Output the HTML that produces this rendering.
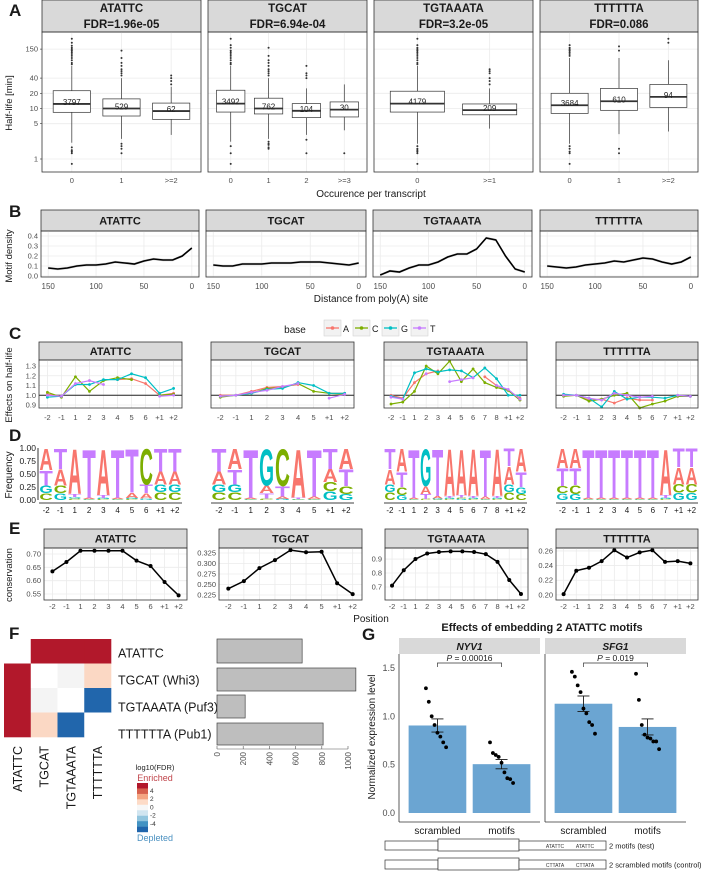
<!DOCTYPE html>
<html><head><meta charset="utf-8">
<style>
html,body{margin:0;padding:0;background:#fff;}
svg{display:block;font-family:"Liberation Sans Narrow","Liberation Sans",Arial,sans-serif;}
</style></head>
<body>
<svg id="fig" width="705" height="871" viewBox="0 0 705 871" xmlns="http://www.w3.org/2000/svg"></svg>
<script>
// ---------- DATA ----------
const motifs = ['ATATTC','TGCAT','TGTAAATA','TTTTTTA'];
const aFdr = ['FDR=1.96e-05','FDR=6.94e-04','FDR=3.2e-05','FDR=0.086'];
const aCats = [['0','1','>=2'],['0','1','2','>=3'],['0','>=1'],['0','1','>=2']];
const aCounts = [[3797,529,62],[3492,762,104,30],[4179,209],[3684,610,94]];
// [whiskerLow, q1, median, q3, whiskerHigh]
const aStats = [
 [[2.1,8.4,12.3,22.5,70],[2.5,7.1,10,15.5,40],[3,6.1,8.9,12.8,27]],
 [[2.2,8.5,12.5,23,70],[2.5,7.8,10,16,40],[3,6.6,9,12.5,25],[3.7,6.8,9.5,13.5,30]],
 [[2,8.5,12.5,22,70],[4,7.5,9.3,12.3,25]],
 [[2,8,11.6,20,100],[3.1,9.2,13.9,25,100],[3.5,10.5,17,30,90]]
];
const aOutliers = [
 [[75,80,90,100,110,120,130,140,150,160,175,200,240,1.7,1.5,1.4,1.3,0.8],[45,50,55,60,70,80,100,140,2,1.8,1.6,1.3],[30,35,40,45]],
 [[75,80,90,100,110,120,130,140,160,180,240,1.8,1.3,0.8],[45,50,55,60,70,80,90,110,160,2.2,2,1.9,1.7,1.6],[40,45,50,70,2.4,1.3],[1.3]],
 [[75,80,90,100,110,120,130,140,150,160,180,240,1.8,1.6,1.5,1.4,1.3,0.8],[30,35,40,50,55,60]],
 [[110,120,130,140,150,160,180,1.8,1.6,1.4,1.3,0.8],[140,170,1.6,1.3],[200,240]]
];
const aYTicks = [1,5,10,20,40,150];

const bX = [150,140,130,120,110,100,90,80,70,60,50,40,30,20,10,0];
const bDens = [
 [0.08,0.07,0.08,0.10,0.11,0.11,0.12,0.14,0.13,0.12,0.15,0.17,0.16,0.16,0.20,0.28],
 [0.11,0.10,0.10,0.12,0.12,0.12,0.13,0.13,0.13,0.14,0.14,0.14,0.13,0.12,0.11,0.13],
 [0.01,0.05,0.04,0.08,0.11,0.11,0.14,0.19,0.22,0.22,0.27,0.38,0.36,0.20,0.07,0.04],
 [0.10,0.09,0.08,0.09,0.11,0.12,0.13,0.15,0.14,0.16,0.18,0.17,0.14,0.12,0.14,0.19]
];
const bTicks = [150,100,50,0];
const bYTicks = [0,0.1,0.2,0.3,0.4];

const posLabels = [
 ['-2','-1','1','2','3','4','5','6','+1','+2'],
 ['-2','-1','1','2','3','4','5','+1','+2'],
 ['-2','-1','1','2','3','4','5','6','7','8','+1','+2'],
 ['-2','-1','1','2','3','4','5','6','7','+1','+2']
];
const bases = ['A','C','G','T'];
const effA = [
 [1.01,0.99,null,1.15,null,1.16,1.17,1.12,1.00,1.02],
 [1.0,1.0,1.04,1.08,1.09,1.11,null,1.02,1.02],
 [1.0,0.97,1.13,1.22,1.25,null,null,null,1.19,1.1,1.05,0.97],
 [1.0,1.0,0.95,0.96,0.92,0.97,0.95,0.95,null,0.99,0.99]
];
const effC = [
 [1.03,0.98,1.19,1.04,1.15,1.18,1.16,null,1.0,1.01],
 [0.98,1.0,1.02,1.07,1.08,1.12,1.04,1.02,1.01],
 [0.91,0.93,1.04,1.3,1.22,1.35,1.14,1.27,1.13,1.08,1.05,0.95],
 [0.99,1.0,0.94,0.96,1.0,1.02,0.87,0.91,0.94,0.99,0.99]
];
const effG = [
 [0.98,0.99,1.11,1.11,1.16,1.16,1.22,1.18,1.02,1.07],
 [0.99,1.0,1.02,1.06,1.07,1.13,1.1,1.02,1.02],
 [0.99,0.96,1.23,1.27,1.24,1.26,1.25,1.18,1.28,1.17,1.0,1.0],
 [1.01,1.0,0.97,0.88,1.04,0.96,0.98,0.98,0.97,1.0,0.99]
];
const effT = [
 [1.0,0.99,1.12,1.15,1.11,null,null,null,0.99,1.0],
 [0.99,1.0,1.03,1.05,1.09,1.12,null,0.97,1.01],
 [0.98,0.96,null,1.22,null,1.14,1.16,1.18,null,1.1,1.06,0.96],
 [1.0,1.0,0.97,0.95,1.02,1.0,0.98,0.99,null,1.0,0.99]
];
const cYTicks = [0.9,1.0,1.1,1.2,1.3];

// logo frequencies [A,C,G,T]
const logoFreq = [
 [[.42,.13,.15,.30],[.32,.15,.13,.40],[.88,.03,.03,.06],[.03,.01,.01,.95],[.9,.02,.02,.06],[.03,.01,.01,.95],[.1,.02,.02,.86],[.1,.7,.03,.17],[.25,.15,.15,.45],[.25,.15,.15,.45]],
 [[.25,.15,.15,.45],[.4,.15,.15,.3],[.03,.01,.01,.95],[.15,.03,.72,.1],[.05,.73,.02,.2],[.95,.01,.01,.03],[.05,.01,.01,.93],[.25,.18,.17,.4],[.4,.15,.12,.33]],
 [[.3,.15,.15,.4],[.45,.15,.1,.3],[.03,.01,.01,.95],[.15,.02,.73,.1],[.05,.01,.02,.92],[.92,.02,.02,.04],[.9,.03,.02,.05],[.92,.02,.02,.04],[.05,.01,.01,.93],[.92,.02,.02,.04],[.35,.15,.15,.35],[.45,.12,.13,.3]],
 [[.38,.14,.13,.35],[.38,.17,.12,.33],[.03,.01,.01,.95],[.03,.01,.01,.95],[.03,.01,.01,.95],[.03,.01,.01,.95],[.03,.01,.01,.95],[.03,.01,.01,.95],[.9,.02,.02,.06],[.33,.16,.14,.37],[.33,.16,.14,.37]]
];
const dYTicks = [0,0.25,0.5,0.75,1.0];

const consVals = [
 [.635,.67,.712,.712,.712,.712,.675,.655,.595,.545],
 [.240,.258,.289,.308,.332,.327,.328,.253,.227],
 [.71,.82,.9,.94,.95,.955,.955,.95,.935,.88,.75,.65],
 [.201,.233,.237,.246,.261,.251,.258,.261,.245,.246,.243]
];
const eRange = [[0.5275,0.7225],[0.213,0.337],[0.607,0.979],[0.193,0.264]];
const eTicks = [[0.55,0.60,0.65,0.70],[0.225,0.25,0.275,0.3,0.325],[0.7,0.8,0.9],[0.20,0.22,0.24,0.26]];
const eTickLbl = [['0.55','0.60','0.65','0.70'],['0.225','0.250','0.275','0.300','0.325'],['0.7','0.8','0.9'],['0.20','0.22','0.24','0.26']];

const fRows = ['ATATTC','TGCAT (Whi3)','TGTAAATA (Puf3)','TTTTTTA (Pub1)'];
const fCols = ['ATATTC','TGCAT','TGTAAATA','TTTTTTA'];
const fLogFdr = [
 [null,5,5,5],
 [5,0,0.3,1.5],
 [5,0.3,0,-5],
 [5,1.5,-5,null]
];
const fCounts = [650,1060,215,810];
const fTicks = [0,200,400,600,800,1000];

const gGenes = ['NYV1','SFG1'];
const gConds = ['scrambled','motifs'];
const gMeans = [[0.905,0.505],[1.13,0.89]];
const gSE = [[0.068,0.048],[0.08,0.083]];
const gPoints = [
 [[1.29,1.15,1.0,0.91,0.83,0.79,0.73,0.68],[0.73,0.62,0.60,0.58,0.52,0.42,0.36,0.35,0.31]],
 [[1.46,1.41,1.32,1.25,1.08,1.03,0.94,0.91,0.82],[1.44,1.17,0.91,0.81,0.78,0.77,0.74,0.74,0.66]]
];
const gP = ['P = 0.00016','P = 0.019'];
const gYTicks = [0,0.5,1.0,1.5];

// ---------- HELPERS ----------
const svg = document.getElementById('fig');
const NS = 'http://www.w3.org/2000/svg';
function mk(tag, attrs, name, parent) {
  const e = document.createElementNS(NS, tag);
  for (const k in attrs) e.setAttribute(k, attrs[k]);
  
  
  (parent || svg).appendChild(e);
  return e;
}
function txt(x, y, s, attrs, name, parent) {
  const a = Object.assign({x: x, y: y, 'font-size': 8, fill: '#4d4d4d'}, attrs || {});
  const e = mk('text', a, name, parent);
  e.textContent = s;
  return e;
}
const colors = {A:'#F8766D', C:'#7CAE00', G:'#00BFC4', T:'#C77CFF'};
const GRID = '#ebebeb';
function strip(x0, x1, y0, y1, lines, fs, name) {
  mk('rect', {x: x0, y: y0, width: x1 - x0, height: y1 - y0, fill: '#d9d9d9', stroke: '#333', 'stroke-width': 0.8}, name);
  const n = lines.length;
  lines.forEach((l, i) => {
    const yc = y0 + (y1 - y0) * (i + 0.5) / n + fs * 0.36;
    txt((x0 + x1) / 2, yc, l, {'text-anchor': 'middle', 'font-size': fs, 'font-weight': 'bold', fill: '#1a1a1a'}, name + '-text');
  });
}
function panelBorder(x0, x1, y0, y1, name) {
  mk('rect', {x: x0, y: y0, width: x1 - x0, height: y1 - y0, fill: 'none', stroke: '#333', 'stroke-width': 0.8}, name);
}
function discX(x0, x1, n) { const u = (x1 - x0) / (n - 1 + 1.2); return i => x0 + (0.6 + i) * u; }
function discU(x0, x1, n) { return (x1 - x0) / (n - 1 + 1.2); }
function label(x, y, s) { txt(x, y, s, {'font-size': 17, 'font-weight': 'bold', fill: '#1a1a1a', 'font-family': '"Liberation Sans",sans-serif'}, 'panel-label-' + s.toLowerCase()); }

// ---------- PANEL A ----------
label(9, 16, 'A');
const aPX = [[42,201],[208,367],[374,533],[540,698]];
const aTop = 32, aBot = 172;
function aY(v) { return 159 - Math.log10(v) * 50.5; }
motifs.forEach((m, p) => {
  const [x0, x1] = aPX[p];
  strip(x0, x1, 0, aTop, [m, aFdr[p]], 11.5, 'a-strip-' + m.toLowerCase());
  aYTicks.forEach(t => mk('line', {x1: x0, x2: x1, y1: aY(t), y2: aY(t), stroke: GRID, 'stroke-width': 0.8}, 'a-gridline'));
  const n = aCats[p].length, fx = discX(x0, x1, n), u = discU(x0, x1, n);
  aCats[p].forEach((c, i) => mk('line', {x1: fx(i), x2: fx(i), y1: aTop, y2: aBot, stroke: GRID, 'stroke-width': 0.8}, 'a-gridline'));
  aCats[p].forEach((c, i) => {
    const s = aStats[p][i], cx = fx(i), hw = u * 0.375;
    mk('line', {x1: cx, x2: cx, y1: aY(s[0]), y2: aY(s[1]), stroke: '#333', 'stroke-width': 0.7}, 'a-whisker-low');
    mk('line', {x1: cx, x2: cx, y1: aY(s[3]), y2: aY(s[4]), stroke: '#333', 'stroke-width': 0.7}, 'a-whisker-high');
    mk('rect', {x: cx - hw, y: aY(s[3]), width: 2 * hw, height: aY(s[1]) - aY(s[3]), fill: '#fff', stroke: '#333', 'stroke-width': 0.7}, 'a-box');
    mk('line', {x1: cx - hw, x2: cx + hw, y1: aY(s[2]), y2: aY(s[2]), stroke: '#333', 'stroke-width': 1.8}, 'a-median');
    aOutliers[p][i].forEach(o => mk('circle', {cx: cx, cy: aY(o), r: 1, fill: '#333'}, 'a-outlier'));
    txt(cx, aY(s[2]) + 1, String(aCounts[p][i]), {'text-anchor': 'middle', 'font-size': 8, fill: '#222'}, 'a-count-label');
    txt(cx, 183, c, {'text-anchor': 'middle', 'font-size': 7.5}, 'a-x-tick-label');
  });
  panelBorder(x0, x1, aTop, aBot, 'a-panel-' + m.toLowerCase());
  if (p === 0) aYTicks.forEach(t => {
    txt(x0 - 4, aY(t) + 2.5, String(t), {'text-anchor': 'end', 'font-size': 7.5}, 'a-y-tick-label');
    mk('line', {x1: x0 - 2, x2: x0, y1: aY(t), y2: aY(t), stroke: '#333', 'stroke-width': 0.6}, 'a-y-tick');
  });
});
txt(12, 103, 'Half-life [min]', {'text-anchor': 'middle', 'font-size': 9.5, fill: '#1a1a1a', transform: 'rotate(-90 12 103)'}, 'a-y-axis-title');
txt(371, 197, 'Occurence per transcript', {'text-anchor': 'middle', 'font-size': 10, fill: '#1a1a1a'}, 'a-x-axis-title');

// ---------- PANEL B ----------
label(9, 217, 'B');
const bPX = [[41,199],[206,366],[373,532],[540,698]];
const bTop = 231, bBot = 277;
function bY(v) { return 276 - v * 100; }
motifs.forEach((m, p) => {
  const [x0, x1] = bPX[p];
  const bx = v => x0 + (x1 - x0) * (0.0455 + (150 - v) / 150 * 0.909);
  strip(x0, x1, 210, bTop, [m], 11, 'b-strip-' + m.toLowerCase());
  bYTicks.forEach(t => mk('line', {x1: x0, x2: x1, y1: bY(t), y2: bY(t), stroke: GRID, 'stroke-width': 0.8}, 'b-gridline'));
  bTicks.forEach(t => mk('line', {x1: bx(t), x2: bx(t), y1: bTop, y2: bBot, stroke: GRID, 'stroke-width': 0.8}, 'b-gridline'));
  const up = bX.map((v, i) => bx(v) + ',' + bY(bDens[p][i] + 0.012)).join(' ');
  const dn = bX.map((v, i) => bx(v) + ',' + bY(bDens[p][i] - 0.012)).reverse().join(' ');
  mk('polygon', {points: up + ' ' + dn, fill: '#bbb', opacity: 0.6}, 'b-density-ribbon');
  mk('polyline', {points: bX.map((v, i) => bx(v) + ',' + bY(bDens[p][i])).join(' '), fill: 'none', stroke: '#000', 'stroke-width': 1.6}, 'b-density-line');
  panelBorder(x0, x1, bTop, bBot, 'b-panel-' + m.toLowerCase());
  bTicks.forEach(t => txt(bx(t), 289, String(t), {'text-anchor': 'middle', 'font-size': 8}, 'b-x-tick-label'));
  if (p === 0) bYTicks.forEach(t => txt(x0 - 3, bY(t) + 2.5, t.toFixed(1), {'text-anchor': 'end', 'font-size': 7.5}, 'b-y-tick-label'));
});
txt(12, 256, 'Motif density', {'text-anchor': 'middle', 'font-size': 9.5, fill: '#1a1a1a', transform: 'rotate(-90 12 256)'}, 'b-y-axis-title');
txt(371, 302, 'Distance from poly(A) site', {'text-anchor': 'middle', 'font-size': 10, fill: '#1a1a1a'}, 'b-x-axis-title');

// ---------- PANEL C ----------
label(9, 339, 'C');
txt(295, 333, 'base', {'text-anchor': 'middle', 'font-size': 10, fill: '#1a1a1a'}, 'c-legend-title');
bases.forEach((b, i) => {
  const kx = 324 + i * 29;
  mk('rect', {x: kx, y: 320, width: 17, height: 16, fill: '#f2f2f2', stroke: '#ccc', 'stroke-width': 0.5}, 'c-legend-key-' + b.toLowerCase());
  mk('line', {x1: kx + 2, x2: kx + 15, y1: 328, y2: 328, stroke: colors[b], 'stroke-width': 1.3}, 'c-legend-line');
  mk('circle', {cx: kx + 8.5, cy: 328, r: 1.8, fill: colors[b]}, 'c-legend-dot');
  txt(kx + 19, 332, b, {'font-size': 9, fill: '#1a1a1a'}, 'c-legend-label');
});
const cPX = [[39,182],[211,354],[384,527],[556,698]];
const cTop = 360, cBot = 408;
function cY(v) { return 366 + (1.3 - v) * 97.5; }
const effAll = [effA, effC, effG, effT];
motifs.forEach((m, p) => {
  const [x0, x1] = cPX[p];
  const n = posLabels[p].length, fx = discX(x0, x1, n);
  strip(x0, x1, 342, cTop, [m], 11, 'c-strip-' + m.toLowerCase());
  cYTicks.forEach(t => mk('line', {x1: x0, x2: x1, y1: cY(t), y2: cY(t), stroke: GRID, 'stroke-width': 0.8}, 'c-gridline'));
  posLabels[p].forEach((l, i) => mk('line', {x1: fx(i), x2: fx(i), y1: cTop, y2: cBot, stroke: GRID, 'stroke-width': 0.8}, 'c-gridline'));
  mk('line', {x1: x0, x2: x1, y1: cY(1), y2: cY(1), stroke: '#222', 'stroke-width': 1.1}, 'c-reference-line');
  bases.forEach((b, bi) => {
    const vals = effAll[bi][p];
    let seg = [];
    const flush = () => { if (seg.length > 1) mk('polyline', {points: seg.join(' '), fill: 'none', stroke: colors[b], 'stroke-width': 1.2}, 'c-line-' + b.toLowerCase()); seg = []; };
    vals.forEach((v, i) => {
      if (v === null) { flush(); return; }
      seg.push(fx(i) + ',' + cY(v));
      mk('circle', {cx: fx(i), cy: cY(v), r: 1.4, fill: colors[b]}, 'c-point-' + b.toLowerCase());
    });
    flush();
  });
  panelBorder(x0, x1, cTop, cBot, 'c-panel-' + m.toLowerCase());
  posLabels[p].forEach((l, i) => txt(fx(i), 420, l, {'text-anchor': 'middle', 'font-size': 7.5}, 'c-x-tick-label'));
  if (p === 0) cYTicks.forEach(t => txt(x0 - 3, cY(t) + 2.5, t.toFixed(1), {'text-anchor': 'end', 'font-size': 7.5}, 'c-y-tick-label'));
});
txt(12, 385, 'Effects on half-life', {'text-anchor': 'middle', 'font-size': 9.5, fill: '#1a1a1a', transform: 'rotate(-90 12 385)'}, 'c-y-axis-title');

// ---------- PANEL D ----------
label(9, 441, 'D');
function dY(v) { return 500 - v * 52; }
motifs.forEach((m, p) => {
  const [x0, x1] = cPX[p];
  const n = posLabels[p].length, u = (x1 - x0) / n;
  const fx = i => x0 + u * (i + 0.5);
  logoFreq[p].forEach((fr, i) => {
    const order = [0, 1, 2, 3].sort((a, b) => fr[a] - fr[b]);
    let acc = 0;
    order.forEach(k => {
      const h = fr[k] * 52;
      const yb = dY(acc);
      acc += fr[k];
      if (h < 0.4) return;
      const w = u * 0.94;
      const t = mk('text', {x: 0, y: 0, 'font-size': 10, 'font-weight': 'bold', fill: colors[bases[k]], textLength: w, lengthAdjust: 'spacingAndGlyphs', 'font-family': '"Liberation Sans",sans-serif', transform: 'translate(' + (fx(i) - w / 2) + ',' + yb + ') scale(1,' + (h / 7.2) + ')'}, 'd-logo-letter-' + bases[k].toLowerCase());
      t.textContent = bases[k];
    });
  });
  mk('line', {x1: x0, x2: x1, y1: 503, y2: 503, stroke: '#000', 'stroke-width': 0.8}, 'd-x-axis-line');
  posLabels[p].forEach((l, i) => txt(fx(i), 513, l, {'text-anchor': 'middle', 'font-size': 8, fill: '#1a1a1a'}, 'd-x-tick-label'));
  if (p === 0) {
    mk('line', {x1: x0 - 1, x2: x0 - 1, y1: dY(1), y2: dY(0), stroke: '#000', 'stroke-width': 0.8}, 'd-y-axis-line');
    dYTicks.forEach(t => txt(x0 - 3, dY(t) + 3, t.toFixed(2), {'text-anchor': 'end', 'font-size': 8.5, fill: '#1a1a1a'}, 'd-y-tick-label'));
  }
});
txt(12, 475, 'Frequency', {'text-anchor': 'middle', 'font-size': 10, fill: '#1a1a1a', transform: 'rotate(-90 12 475)'}, 'd-y-axis-title');

// ---------- PANEL E ----------
label(9, 534, 'E');
const ePX = [[44,187],[219,362],[385,528],[556,698]];
const eTop = 548, eBot = 600;
motifs.forEach((m, p) => {
  const [x0, x1] = ePX[p];
  const [lo, hi] = eRange[p];
  const ey = v => eBot - (v - lo) / (hi - lo) * (eBot - eTop);
  const n = posLabels[p].length, fx = discX(x0, x1, n);
  strip(x0, x1, 529, eTop, [m], 11, 'e-strip-' + m.toLowerCase());
  eTicks[p].forEach(t => mk('line', {x1: x0, x2: x1, y1: ey(t), y2: ey(t), stroke: GRID, 'stroke-width': 0.8}, 'e-gridline'));
  posLabels[p].forEach((l, i) => mk('line', {x1: fx(i), x2: fx(i), y1: eTop, y2: eBot, stroke: GRID, 'stroke-width': 0.8}, 'e-gridline'));
  mk('polyline', {points: consVals[p].map((v, i) => fx(i) + ',' + ey(v)).join(' '), fill: 'none', stroke: '#000', 'stroke-width': 1.5}, 'e-conservation-line');
  consVals[p].forEach((v, i) => mk('circle', {cx: fx(i), cy: ey(v), r: 2, fill: '#000'}, 'e-conservation-point'));
  panelBorder(x0, x1, eTop, eBot, 'e-panel-' + m.toLowerCase());
  posLabels[p].forEach((l, i) => txt(fx(i), 609, l, {'text-anchor': 'middle', 'font-size': 7.5}, 'e-x-tick-label'));
  eTicks[p].forEach((t, i) => txt(x0 - 3, ey(t) + 2.5, eTickLbl[p][i], {'text-anchor': 'end', 'font-size': 7.5}, 'e-y-tick-label'));
});
txt(12, 575, 'conservation', {'text-anchor': 'middle', 'font-size': 9.5, fill: '#1a1a1a', transform: 'rotate(-90 12 575)'}, 'e-y-axis-title');
txt(371, 622, 'Position', {'text-anchor': 'middle', 'font-size': 10, fill: '#1a1a1a'}, 'e-x-axis-title');

// ---------- PANEL F ----------
label(9, 639, 'F');
const hmX0 = 4, hmCW = 26.75, hmY0 = 639, hmRH = 24.5;
function fColor(v) {
  if (v === null) return '#ffffff';
  if (v >= 4) return '#B2182B';
  if (v >= 1) return '#FBD8C4';
  if (v > 0.1) return '#F4F4F4';
  if (v <= -4) return '#2166AC';
  return '#ffffff';
}
fLogFdr.forEach((row, r) => row.forEach((v, c) => {
  mk('rect', {x: hmX0 + c * hmCW, y: hmY0 + r * hmRH, width: hmCW + 0.3, height: hmRH + 0.3, fill: fColor(v)}, 'f-heatmap-cell');
}));
fCols.forEach((c, i) => {
  const cx = hmX0 + (i + 0.5) * hmCW + 4.5;
  txt(cx, 746, c, {'text-anchor': 'end', 'font-size': 12.5, fill: '#1a1a1a', 'font-family': '"Liberation Sans",sans-serif', transform: 'rotate(-90 ' + cx + ' 746)'}, 'f-column-label');
});
const fRowY = [653, 680, 707, 734];
fRows.forEach((r, i) => txt(118, fRowY[i] + 4.5, r, {'font-size': 12.5, fill: '#1a1a1a', 'font-family': '"Liberation Sans",sans-serif'}, 'f-row-label'));
function fx(v) { return 217 + v * 0.131; }
const fBarY = [[639,663],[668,691],[695,718],[723,745]];
fCounts.forEach((v, i) => mk('rect', {x: fx(0), y: fBarY[i][0], width: fx(v) - fx(0), height: fBarY[i][1] - fBarY[i][0], fill: '#bebebe', stroke: '#444', 'stroke-width': 0.7}, 'f-count-bar'));
mk('line', {x1: fx(0), x2: fx(1000), y1: 749, y2: 749, stroke: '#555', 'stroke-width': 0.6}, 'f-x-axis-line');
fTicks.forEach(t => {
  mk('line', {x1: fx(t), x2: fx(t), y1: 746, y2: 749, stroke: '#555', 'stroke-width': 0.6}, 'f-x-tick');
  txt(fx(t) + 3, 752, String(t), {'text-anchor': 'end', 'font-size': 8, transform: 'rotate(-90 ' + (fx(t) + 3) + ' 752)'}, 'f-x-tick-label');
});
txt(155, 770, 'log10(FDR)', {'text-anchor': 'middle', 'font-size': 7.5, fill: '#1a1a1a'}, 'f-legend-title');
txt(155, 781, 'Enriched', {'text-anchor': 'middle', 'font-size': 9, fill: '#c0444a'}, 'f-legend-enriched');
const cbCols = ['#B2182B','#D6604D','#F4A582','#FDDBC7','#F7F7F7','#D1E5F0','#92C5DE','#4393C3','#2166AC'];
cbCols.forEach((c, i) => mk('rect', {x: 137, y: 783 + i * 5.45, width: 11, height: 5.6, fill: c}, 'f-colorbar-segment'));
['4','2','0','-2','-4'].forEach((l, i) => txt(150, 793 + i * 8.2, l, {'font-size': 6.5, fill: '#333'}, 'f-colorbar-label'));
txt(155, 841, 'Depleted', {'text-anchor': 'middle', 'font-size': 9, fill: '#4a90c0'}, 'f-legend-depleted');

// ---------- PANEL G ----------
label(362, 640, 'G');
txt(542, 631, 'Effects of embedding 2 ATATTC motifs', {'text-anchor': 'middle', 'font-size': 11, 'font-weight': 'bold', fill: '#1a1a1a'}, 'g-title');
const gPX = [[399,540],[545,686]];
function gY(v) { return 813 - v * 96.7; }
gGenes.forEach((g, p) => {
  const [x0, x1] = gPX[p];
  mk('rect', {x: x0, y: 638, width: x1 - x0, height: 16, fill: '#d9d9d9'}, 'g-strip-' + g.toLowerCase());
  txt((x0 + x1) / 2, 650, g, {'text-anchor': 'middle', 'font-size': 10, 'font-weight': 'bold', 'font-style': 'italic', fill: '#1a1a1a'}, 'g-strip-text');
  mk('line', {x1: x0, x2: x0, y1: 654, y2: 822, stroke: '#333', 'stroke-width': 0.8}, 'g-y-axis-line');
  mk('line', {x1: x0, x2: x1, y1: 822, y2: 822, stroke: '#333', 'stroke-width': 0.8}, 'g-x-axis-line');
  const fxg = discX(x0, x1, 2), u = discU(x0, x1, 2);
  gConds.forEach((c, i) => {
    const cx = fxg(i), hw = u * 0.45;
    mk('rect', {x: cx - hw, y: gY(gMeans[p][i]), width: 2 * hw, height: gY(0) - gY(gMeans[p][i]), fill: '#6BA5D2'}, 'g-bar-' + c);
    const lo = gMeans[p][i] - gSE[p][i], hi = gMeans[p][i] + gSE[p][i];
    mk('line', {x1: cx, x2: cx, y1: gY(lo), y2: gY(hi), stroke: '#1a1a1a', 'stroke-width': 0.9}, 'g-error-bar');
    mk('line', {x1: cx - 6, x2: cx + 6, y1: gY(lo), y2: gY(lo), stroke: '#1a1a1a', 'stroke-width': 0.9}, 'g-error-cap');
    mk('line', {x1: cx - 6, x2: cx + 6, y1: gY(hi), y2: gY(hi), stroke: '#1a1a1a', 'stroke-width': 0.9}, 'g-error-cap');
    gPoints[p][i].forEach((v, k) => {
      const jit = (((k * 37) % 9) - 4) * 0.045 * u;
      mk('circle', {cx: cx + jit, cy: gY(v), r: 1.9, fill: '#000'}, 'g-data-point');
    });
    txt(cx, 834, c, {'text-anchor': 'middle', 'font-size': 10, fill: '#1a1a1a'}, 'g-x-tick-label');
  });
  const bx0 = fxg(0), bx1 = fxg(1);
  mk('polyline', {points: bx0 + ',667 ' + bx0 + ',663 ' + bx1 + ',663 ' + bx1 + ',667', fill: 'none', stroke: '#333', 'stroke-width': 0.7}, 'g-significance-bracket');
  const pt = txt((bx0 + bx1) / 2, 661, '', {'text-anchor': 'middle', 'font-size': 8.5, fill: '#1a1a1a'}, 'g-p-value');
  const ti = document.createElementNS(NS, 'tspan');
  ti.setAttribute('font-style', 'italic');
  ti.textContent = 'P';
  pt.appendChild(ti);
  pt.appendChild(document.createTextNode(gP[p].slice(1)));
});
gYTicks.forEach(t => txt(395, gY(t) + 3, t.toFixed(1), {'text-anchor': 'end', 'font-size': 9}, 'g-y-tick-label'));
txt(375, 737, 'Normalized expression level', {'text-anchor': 'middle', 'font-size': 10, fill: '#1a1a1a', transform: 'rotate(-90 375 737)'}, 'g-y-axis-title');
const gConstructs = [['ATATTC','ATATTC','2 motifs (test)',840],['CTTATA','CTTATA','2 scrambled motifs (control)',859]];
gConstructs.forEach(cn => {
  const y = cn[3];
  mk('rect', {x: 385, y: y + 1, width: 53, height: 9, fill: '#fff', stroke: '#333', 'stroke-width': 0.7}, 'g-construct-promoter');
  mk('rect', {x: 438, y: y - 1, width: 81, height: 12, fill: '#fff', stroke: '#333', 'stroke-width': 0.7}, 'g-construct-orf');
  mk('rect', {x: 519, y: y + 1, width: 87, height: 9, fill: '#fff', stroke: '#333', 'stroke-width': 0.7}, 'g-construct-utr');
  txt(555, y + 8, cn[0], {'text-anchor': 'middle', 'font-size': 5, fill: '#333'}, 'g-construct-motif');
  txt(585, y + 8, cn[1], {'text-anchor': 'middle', 'font-size': 5, fill: '#333'}, 'g-construct-motif');
  txt(609, y + 8.5, cn[2], {'font-size': 7.5, fill: '#1a1a1a'}, 'g-construct-label');
});
</script>
</body></html>
